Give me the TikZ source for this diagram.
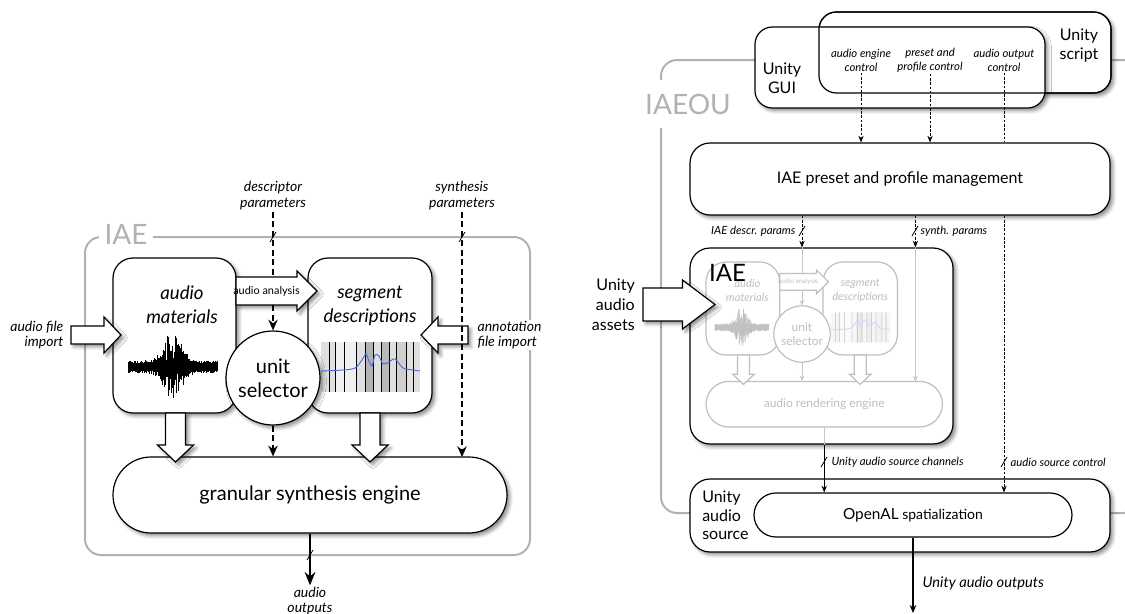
\documentclass[tikz,border=0pt]{standalone}
\usepackage{fontspec}
\setmainfont{Lato}
\usetikzlibrary{arrows.meta,shapes.misc,shadows.blur}

\tikzset{
  boxsize/.style 2 args={minimum width=#1*0.75pt,minimum height=#2*0.75pt,inner sep=0pt},
  softshadow/.style={blur shadow={shadow xshift=2.2pt,shadow yshift=-2.2pt,shadow blur radius=2.6pt,shadow opacity=45}},
  box/.style={draw,fill=white,line width=0.9pt,rounded corners=15pt},
  bigarrow/.style={draw,fill=white,line width=0.9pt,line join=miter},
  grayframe/.style={draw=gray!60,line width=1.5pt,rounded corners=12pt},
  framelabel/.style={fill=white,text=gray!60,inner xsep=4pt,inner ysep=8pt,font=\fontsize{21}{24}\selectfont},
  thickdash/.style={line width=1.8pt,dash pattern=on 4.5pt off 2.6pt,-{Stealth[length=8pt,width=7pt]}},
  thindash/.style={line width=0.6pt,dash pattern=on 2pt off 1.2pt,-{Stealth[length=5pt,width=4pt]}},
  grayline/.style={draw=gray!45,line width=0.6pt,-{Stealth[length=4pt,width=3.5pt]}},
  coretext/.style={font=\itshape\fontsize{14}{18}\selectfont,align=center,inner sep=0pt},
  itlabel/.style={font=\itshape\fontsize{10.5}{12}\selectfont,align=center,inner sep=1pt},
  smallnote/.style={font=\itshape\fontsize{8.5}{10.5}\selectfont,align=center,inner sep=1pt},
  unitytext/.style={font=\fontsize{12}{14}\selectfont,inner sep=0pt},
  pics/slash/.style={code={\draw[line width=0.6pt] (-3,5) -- (3,-5);}},
  % the IAE core, drawn once in full size and once small and faded
  pics/iaecore/.style={code={
    %Shape: Rounded Rect [audio materials]
    \node[box,softshadow,boxsize={123}{155}] (am) at (61.5,77.5) {};
    %Shape: Rounded Rect [segment descriptions]
    \node[box,softshadow,boxsize={124}{155}] (sd) at (257,77.5) {};
    % Text Node
    \node[coretext] (amtext) at (69,47) {audio\\materials};
    % Text Node
    \node[coretext] (sdtext) at (257,48) {segment\\descriptions};
    %Shape: segment picture
    \fill[gray!25] (208,84) rectangle (307,134);
    \fill[gray!12] (222,84) rectangle (243,134);
    \fill[gray!60] (252,84) rectangle (260,134);
    \fill[gray!55] (268,84) rectangle (276,134);
    \fill[gray!38] (283,84) rectangle (293,134);
    \foreach \lx in {216,222,231,243,252,260,268,276,283,293,300}
      \draw[line width=0.45pt] (\lx,84) -- (\lx,134);
    \draw[line width=0.7pt,color={rgb,255:red,80;green,105;blue,215}] plot[smooth] coordinates {(208,113) (230,112) (242,110) (249,102) (253,96) (256,103) (259,108) (262,97) (266,98) (270,106) (276,104) (282,101) (290,110) (300,112) (307,113)};
    %Shape: waveform
    \pgfmathsetseed{42}
    \foreach \i in {0,...,140}{
      \pgfmathsetmacro\wx{15+0.64*\i}
      \pgfmathsetmacro\wd{(\wx-60)/12}
      \pgfmathsetmacro\wenv{exp(-\wd*\wd)}
      \pgfmathsetmacro\wup{3.5+3*rnd+30*\wenv*rnd}
      \pgfmathsetmacro\wdn{3.5+3*rnd+30*\wenv*rnd}
      \draw[line width=0.5pt] (\wx,109-\wup) -- (\wx,109+\wdn);
    }
    %Shape: Arrow [audio analysis]
    \draw[bigarrow,softshadow] (123,19) -- (184,19) -- (184,13) -- (204,33) -- (184,53) -- (184,47) -- (123,47) -- cycle;
    % Text Node
    \node[font=\fontsize{8.2}{10}\selectfont,boxsize={58}{28}] (aa) at (153.5,33) {audio analysis};
    %Shape: Circle [unit selector]
    \node[box,circle,softshadow,boxsize={94}{94},align=center,font=\fontsize{15}{18}\selectfont] (us) at (160,120) {unit\\selector};
    %Shape: Stadium [engine]
    \node[box,sharp corners,rounded rectangle,softshadow,boxsize={394}{76},font=\fontsize{15}{18}\selectfont] (eng) at (197,237) {#1};
    %Shape: Arrow [down]
    \draw[bigarrow,softshadow] (52.5,155) -- (72.5,155) -- (72.5,187) -- (80.5,187) -- (62.5,204) -- (44.5,187) -- (52.5,187) -- cycle;
    %Shape: Arrow [down]
    \draw[bigarrow,softshadow] (247,155) -- (267,155) -- (267,187) -- (275,187) -- (257,204) -- (239,187) -- (247,187) -- cycle;
    \coordinate (syn) at (349,199);
  }}
}

\begin{document}
\begin{tikzpicture}[x=0.75pt,y=-0.75pt]
\useasboundingbox (0,0) rectangle (1125,614);
\clip (0,0) rectangle (1125,614);

%%%%%% left: IAE
%Shape: Frame [IAE]
\draw[grayframe] (85,237) rectangle (530,555);
\node[framelabel] (iaelabel) at (126,234) {IAE};

\pic (L) at (113,258) {iaecore={granular synthesis engine}};

%Shape: Arrow [audio file import]
\draw[bigarrow,softshadow] (71,326) -- (104,326) -- (104,317) -- (121,335) -- (104,353) -- (104,344) -- (71,344) -- cycle;
%Shape: Arrow [annotation file import]
\draw[bigarrow,softshadow] (468,326) -- (438,326) -- (438,317) -- (421,335) -- (438,353) -- (438,344) -- (468,344) -- cycle;

% Text Node
\node[itlabel,align=right,anchor=east,font=\itshape\fontsize{10.5}{11.5}\selectfont] (afi) at (65,335) {audio file\\import};
% Text Node
\node[itlabel,align=left,anchor=west,fill=white,font=\itshape\fontsize{10.5}{11.5}\selectfont] (afn) at (476,335) {annotation\\file import};
% Text Node
\node[itlabel] (desc) at (273,196) {descriptor\\parameters};
% Text Node
\node[itlabel] (synp) at (462,196) {synthesis\\parameters};
% Text Node
\node[itlabel,font=\itshape\fontsize{10.5}{11.5}\selectfont] (aout) at (310,601) {audio\\outputs};

%Straight Lines
\draw[thickdash,-] (desc.south) -- (desc |- Laa.north);
\draw[thickdash] (desc |- Laa.south) -- (Lus.north);
\draw[thickdash] (Lus.south) -- (Lus |- Leng.north);
\draw[thickdash] (synp.south) -- (Lsyn);
\draw[line width=1.6pt,-{Stealth[length=10pt,width=8pt]}] (Leng.south) -- (aout.north);
\pic[line width=0.8pt] at (273,237) {slash};
\pic[line width=0.8pt] at (462,237) {slash};
\pic at (310,555) {slash};

%%%%%% right: IAEOU
%Shape: Frame [IAEOU]
\draw[grayframe] (661,60) rectangle (1140,513);
\node[framelabel,inner ysep=10pt] (ouLabel) at (688,104) {IAEOU};

%Shape: Rounded Rect [Unity script]
\node[box,softshadow,boxsize={292}{81},rounded corners=13pt] (script) at (965,52.5) {};
%Shape: Rounded Rect [Unity GUI]
\node[box,softshadow,boxsize={290}{81},rounded corners=13pt] (gui) at (900,67.5) {};
\node[box,fill=none,boxsize={292}{81},rounded corners=13pt] (scriptline) at (script) {};

% Text Node
\node[unitytext,align=center] (guitext) at (782,78.5) {Unity\\GUI};
% Text Node
\node[unitytext,align=center] (scripttext) at (1079,45.5) {Unity\\script};
% Text Node
\node[smallnote] (aec) at (861,60) {audio engine\\control};
% Text Node
\node[smallnote] (ppc) at (930,60) {preset and\\profile control};
% Text Node
\node[smallnote] (aoc) at (1004,60) {audio output\\control};

%Shape: Rounded Rect [preset management]
\node[box,softshadow,boxsize={420}{72},rounded corners=15pt,font=\fontsize{12}{14}\selectfont] (preset) at (900,179) {IAE preset and profile management};

%Shape: Rounded Rect [IAE]
\node[box,softshadow,boxsize={263}{196},rounded corners=15pt] (iae) at (821.5,346) {};
\begin{scope}[transparency group,opacity=0.25]
\pic[scale=0.6,transform shape,softshadow/.style={}] (R) at (706,262) {iaecore={audio rendering engine}};
\end{scope}
% Text Node
\node[font=\fontsize{18}{20}\selectfont,inner sep=0pt] (iaetext) at (727.5,273) {IAE};

%Shape: Arrow [Unity audio assets]
\draw[bigarrow,softshadow] (643,288) -- (682.5,288) -- (682.5,280) -- (715,304.5) -- (682.5,329) -- (682.5,321) -- (643,321) -- cycle;
% Text Node
\node[unitytext,align=right,anchor=east,font=\fontsize{12}{15}\selectfont] (assets) at (635,305) {Unity\\audio\\assets};

%Shape: Rounded Rect [Unity audio source]
\node[box,softshadow,boxsize={420}{73},rounded corners=15pt] (asrc) at (900,515.5) {};
% Text Node
\node[unitytext,align=left,anchor=west] (asrctext) at (702,515.5) {Unity\\audio\\source};
%Shape: Stadium [OpenAL]
\node[box,sharp corners,rounded rectangle,boxsize={318}{44},font=\fontsize{10.5}{12}\selectfont] (openal) at (913,515) {{\fontsize{11.5}{12}\selectfont OpenAL} spatialization};

% Text Node
\node[smallnote,anchor=east] (descrp) at (797,231) {IAE descr. params};
% Text Node
\node[smallnote,anchor=west] (synthp) at (919,231) {synth. params};
% Text Node
\node[smallnote,anchor=west] (chan) at (830,462) {Unity audio source channels};
% Text Node
\node[smallnote,anchor=west] (srcctl) at (1009,462) {audio source control};
% Text Node
\node[itlabel,anchor=west,font=\itshape\fontsize{11}{13}\selectfont] (uout) at (921,583) {Unity audio outputs};
\coordinate (uend) at (913,613);

%Straight Lines
\draw[thindash] (aec.south) -- (aec |- preset.north);
\draw[thindash] (ppc.south) -- (ppc |- preset.north);
\draw[thindash,-] (aoc.south) -- (aoc |- preset.north);
\draw[thindash] (aoc |- preset.south) -- (aoc |- openal.north);
\draw[thindash] (Rus |- preset.south) -- (Rus |- iae.north);
\draw[thindash] (Rsyn |- preset.south) -- (Rsyn |- iae.north);
\draw[grayline,-] (Rus |- iae.north) -- (Rus |- Raa.north);
\draw[grayline] (Raa.south -| Rus) -- (Rus.north);
\draw[grayline] (Rus.south) -- (Rus |- Reng.north);
\draw[grayline] (Rsyn |- iae.north) -- (Rsyn);
\draw[grayline,-] (Reng.south) -- (Reng |- iae.south);
\draw[line width=0.7pt,-{Stealth[length=5pt,width=4pt]}] (Reng |- iae.south) -- (Reng |- openal.north);
\draw[line width=0.8pt,-{Stealth[length=6pt,width=5pt]}] (openal.south) -- (uend);
\pic at (802,231) {slash};
\pic at (915,231) {slash};
\pic at (824,462) {slash};
\pic at (1004,462) {slash};

\end{tikzpicture}
\end{document}
